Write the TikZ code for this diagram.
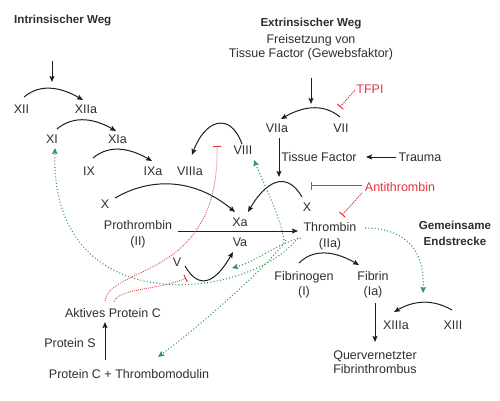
\documentclass[tikz,border=0pt]{standalone}
\usepackage{fontspec}
\setmainfont{Liberation Sans}
\usetikzlibrary{arrows.meta}
\definecolor{txt}{HTML}{2E2E2E}
\definecolor{ln}{HTML}{1E1E1E}
\definecolor{rd}{HTML}{E3343F}
\definecolor{gr}{HTML}{2F9A57}
\begin{document}
\begin{tikzpicture}[x=1pt,y=-1pt,
 lbl/.style={font=\fontsize{12.5}{16}\selectfont, text=txt, inner sep=1pt, align=center},
 hd/.style={font=\fontsize{11.6}{16}\selectfont\bfseries, text=txt, inner sep=1pt, align=center},
 arr/.style={draw=ln, line width=1pt, -{Stealth[length=6pt,width=5pt,inset=1pt]}},
 inh/.style={draw=rd, color=rd, line width=0.9pt, -{Bar[width=8pt,line width=1pt]}},
 inhdash/.style={inh, dash pattern=on 1.3pt off 1pt},
 inhdot/.style={inh, dash pattern=on 0.8pt off 1.2pt},
 act/.style={draw=gr, line width=1.1pt, dash pattern=on 1pt off 2.2pt, -{Stealth[length=6pt,width=5.5pt,inset=0.8pt]}},
]
\useasboundingbox (0,0) rectangle (500,400);

% headings
\node[hd, anchor=base west] (intr) at (13,23.5) {Intrinsischer Weg};
\node[hd, anchor=base] (extr) at (311,26) {Extrinsischer Weg};
\node[lbl, font=\fontsize{12.5}{14}\selectfont] (frei) at (311,47.3) {Freisetzung von\\Tissue Factor (Gewebsfaktor)};
\node[hd] (gem) at (455,233) {Gemeinsame\\Endstrecke};

% factors
\node[lbl, anchor=base] (xii) at (21.5,113) {XII};
\node[lbl, anchor=base] (xiia) at (86,113) {XIIa};
\node[lbl, anchor=base] (xi) at (52,143.5) {XI};
\node[lbl, anchor=base] (xia) at (117.5,143.5) {XIa};
\node[lbl, anchor=base] (ix) at (89,175.5) {IX};
\node[lbl, anchor=base] (ixa) at (153,175.5) {IXa};
\node[lbl, anchor=base] (viiia) at (190,175.5) {VIIIa};
\node[lbl, anchor=base] (viii) at (243,154.5) {VIII};
\node[lbl, anchor=base] (x) at (105,208.5) {X};
\node[lbl, anchor=base] (xa) at (240,226.5) {Xa};
\node[lbl, anchor=base] (va) at (240,246.5) {Va};
\node[lbl] (proth) at (138,234.25) {Prothrombin\\(II)};
\node[lbl] (thr) at (330,236.25) {Thrombin\\(IIa)};
\node[lbl, anchor=base] (xr) at (307,211.5) {X};
\node[lbl, anchor=base] (viia) at (277,132.5) {VIIa};
\node[lbl, anchor=base] (vii) at (341,132.5) {VII};
\node[lbl, anchor=base, text=rd] (tfpi) at (370,93.5) {TFPI};
\node[lbl, anchor=base] (tf) at (319,161.5) {Tissue Factor};
\node[lbl, anchor=base] (trauma) at (420,161.5) {Trauma};
\node[lbl, anchor=base, text=rd] (athr) at (400,191.5) {Antithrombin};
\node[lbl, font=\fontsize{12.5}{15}\selectfont] (fbg) at (304,284.75) {Fibrinogen\\(I)};
\node[lbl, font=\fontsize{12.5}{15}\selectfont] (fib) at (373,284.75) {Fibrin\\(Ia)};
\node[lbl, anchor=base] (xiiia) at (396,329.5) {XIIIa};
\node[lbl, anchor=base] (xiii) at (453,329.5) {XIII};
\node[lbl, font=\fontsize{12.5}{14}\selectfont] (qf) at (375,362.1) {Quervernetzter\\Fibrinthrombus};
\node[lbl, anchor=base] (v) at (177,266.5) {V};
\node[lbl, anchor=base] (apc) at (113,317.5) {Aktives Protein C};
\node[lbl, anchor=base] (ps) at (70,347.5) {Protein S};
\node[lbl, anchor=base] (pctm) at (129,378.5) {Protein C + Thrombomodulin};

\coordinate (i0) at (52,61);
\coordinate (i1) at (52,82);

% activation arcs
\draw[arr] ([shift={(2.5,-16)}]xii.base) to[out=40,in=150] ([shift={(-3,-13)}]xiia.base);
\draw[arr] ([shift={(5,-14.5)}]xi.base) to[out=40,in=150] ([shift={(-1.5,-12.5)}]xia.base);
\draw[arr] ([shift={(4,-17.5)}]ix.base) to[out=40,in=150] ([shift={(-1,-14.5)}]ixa.base);
\draw[arr] ([shift={(-1,-10.5)}]viii.base) to[out=110,in=70,looseness=1.8] ([shift={(2,-20.5)}]viiia.base);
\draw[arr] ([shift={(10,-10.5)}]x.base) to[out=30,in=140] ([shift={(-5,-14.5)}]xa.base);
\draw[arr] ([shift={(-5,-14.5)}]xr.base) to[out=120,in=60,looseness=1.5] ([shift={(8,-14.5)}]xa.base);
\draw[arr] ([shift={(-1,-15.5)}]vii.base) to[out=140,in=30] ([shift={(4,-13.5)}]viia.base);
\draw[arr] ([shift={(-5,-21.75)}]fbg.center) to[out=45,in=150] ([shift={(-14,-19.75)}]fib.center);
\draw[arr] ([shift={(-1,-19.5)}]xiii.base) to[out=150,in=30] ([shift={(-2,-17.5)}]xiiia.base);
\draw[arr] ([shift={(8,-0.5)}]v.base) to[out=-60,in=-120,looseness=1.6] ([shift={(-7,5.5)}]va.base);

% straight arrows
\draw[arr] (i0) -- (i1);
\draw[arr] ([shift={(0,30.7)}]frei.center) -- ([shift={(0,56.7)}]frei.center);
\draw[arr] ([shift={(2,5.5)}]viia.base) -- ([shift={(-28,-34.5)}]xr.base);
\draw[arr] ([shift={(-24,-4.5)}]trauma.base) -- ([shift={(47,-4.5)}]tf.base);
\draw[arr] ([shift={(40,-3.25)}]proth.center) -- ([shift={(-32,-5.25)}]thr.center);
\draw[arr] ([shift={(2,18.25)}]fib.center) -- ([shift={(0,-20.1)}]qf.center);
\draw[arr] ([shift={(-24,-18.5)}]pctm.base) -- ([shift={(-8,4.5)}]apc.base);

% inhibitions
\draw[inhdash] ([shift={(-15,-3.5)}]tfpi.base) -- ([shift={(-1,-25.5)}]vii.base);
\draw[inh, line width=1.3pt] ([shift={(-38,-6)}]athr.base) -- ([shift={(4,-26)}]xr.base);
\draw[inhdash] ([shift={(-38,1.5)}]athr.base) -- ([shift={(12,-21.25)}]thr.center);
\draw[inhdot] ([shift={(-8,-16.5)}]apc.base) .. controls (110,265) and (220,280) .. ([shift={(-26,-8.5)}]viii.base);
\draw[inhdot] ([shift={(1,-15.5)}]apc.base) .. controls (118,288) and (160,290) .. ([shift={(9,11.5)}]v.base);

% thrombin feedback
\draw[act] ([shift={(-32,1.75)}]thr.center) .. controls (250,300) and (50,325) .. ([shift={(3,4.5)}]xi.base);
\draw[act] ([shift={(-29,1.75)}]thr.center) .. controls (280,242) and (255,262) .. ([shift={(-8,21.5)}]va.base);
\draw[act] ([shift={(-46,3.75)}]thr.center) .. controls (280,215) and (262,180) .. ([shift={(11,5.5)}]viii.base);
\draw[act] ([shift={(-44,3.75)}]thr.center) .. controls (272,262) and (205,322) .. ([shift={(29,-21.5)}]pctm.base);
\draw[act] ([shift={(35,-8.25)}]thr.center) .. controls (400,228) and (425,245) .. ([shift={(27,-36.5)}]xiiia.base);
\end{tikzpicture}
\end{document}
